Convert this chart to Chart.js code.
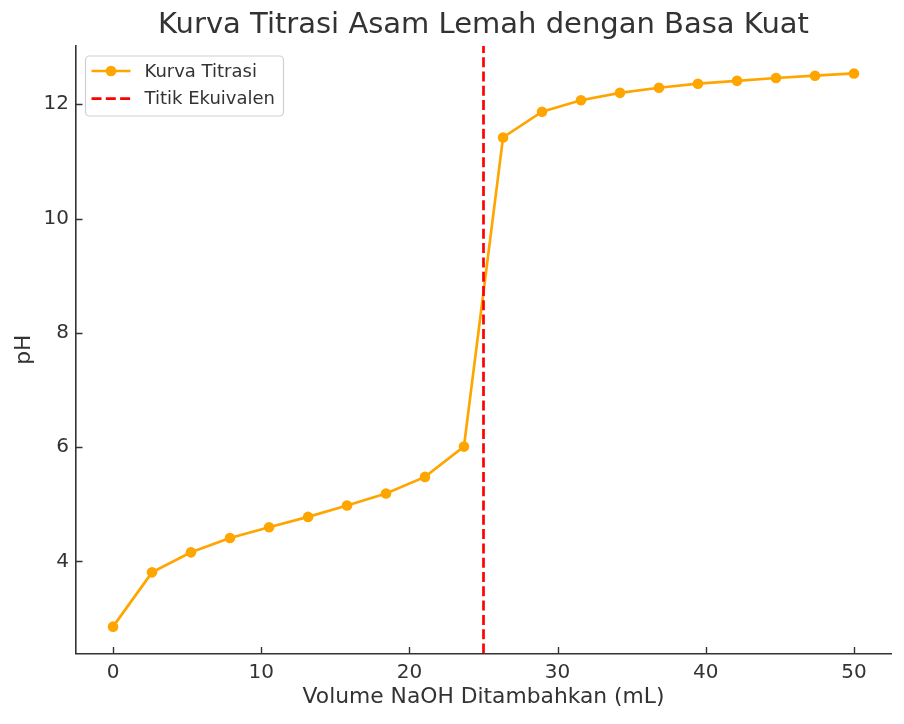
<!DOCTYPE html>
<html>
<head>
<meta charset="utf-8">
<script src="https://cdn.jsdelivr.net/npm/chart.js@4"></script>
<style>
  body { margin: 0; background: #fff; }
  #wrap { width: 904px; height: 724px; }
</style>
</head>
<body>
<div id="wrap"><canvas id="myChart" width="904" height="724"></canvas></div>
<script>
// data
var volume = [0, 2.63, 5.26, 7.89, 10.53, 13.16, 15.79, 18.42, 21.05, 23.68,
  26.32, 28.95, 31.58, 34.21, 36.84, 39.47, 42.11, 44.74, 47.37, 50];
var phValues = [2.86, 3.81, 4.16, 4.41, 4.6, 4.78, 4.98, 5.19, 5.48, 6.01,
  11.42, 11.87, 12.07, 12.2, 12.29, 12.36, 12.41, 12.46, 12.5, 12.54];
var equivVolume = 25;
var xTicks = [0, 10, 20, 30, 40, 50];
var yTicks = [4, 6, 8, 10, 12];
var xRange = [-2.5, 52.5];
var yRange = [2.39, 13.02];

var textColor = "#333333";
var fontFamily = "'DejaVu Sans', sans-serif";

var curve = volume.map(function (v, i) {
  return { x: v, y: phValues[i] };
});
var equivLine = [
  { x: equivVolume, y: yRange[0] },
  { x: equivVolume, y: yRange[1] },
];

// matplotlib style inward tick marks
var tickMarks = {
  id: "tickMarks",
  afterDatasetsDraw: function (chart) {
    var ctx = chart.ctx;
    var area = chart.chartArea;
    var xs = chart.scales.x;
    var ys = chart.scales.y;
    ctx.save();
    ctx.strokeStyle = textColor;
    ctx.lineWidth = 1.4;
    ctx.beginPath();
    xTicks.forEach(function (t) {
      var px = Math.round(xs.getPixelForValue(t)) + 0.5;
      ctx.moveTo(px, area.bottom);
      ctx.lineTo(px, area.bottom - 6.5);
    });
    yTicks.forEach(function (t) {
      var py = Math.round(ys.getPixelForValue(t)) + 0.5;
      ctx.moveTo(area.left, py);
      ctx.lineTo(area.left + 6.5, py);
    });
    ctx.stroke();
    ctx.restore();
  },
};

// legend box in the upper left, like matplotlib
var boxLegend = {
  id: "boxLegend",
  afterDraw: function (chart) {
    var ctx = chart.ctx;
    var area = chart.chartArea;
    var x0 = area.left + 9.5;
    var y0 = area.top + 10;
    var w = 198;
    var h = 60;
    ctx.save();
    ctx.fillStyle = "rgba(255,255,255,0.8)";
    ctx.strokeStyle = "#d0d0d0";
    ctx.lineWidth = 1.2;
    ctx.beginPath();
    ctx.roundRect(x0, y0, w, h, 4);
    ctx.fill();
    ctx.stroke();

    var ds = chart.data.datasets;
    ds.forEach(function (d, i) {
      var cy = y0 + 15 + i * 27.6;
      ctx.strokeStyle = d.borderColor;
      ctx.lineWidth = d.borderWidth;
      ctx.setLineDash(d.borderDash || []);
      ctx.beginPath();
      ctx.moveTo(x0 + 6, cy);
      ctx.lineTo(x0 + 45, cy);
      ctx.stroke();
      ctx.setLineDash([]);
      if (d.pointRadius > 0) {
        ctx.fillStyle = d.pointBackgroundColor;
        ctx.beginPath();
        ctx.arc(x0 + 25.5, cy, d.pointRadius, 0, Math.PI * 2);
        ctx.fill();
      }
      ctx.fillStyle = textColor;
      ctx.font = "18px " + fontFamily;
      ctx.textBaseline = "middle";
      ctx.fillText(d.label, x0 + 59, cy + 1);
    });
    ctx.restore();
  },
};

var ctx = document.getElementById("myChart").getContext("2d");
var myChart = new Chart(ctx, {
  type: "line",
  data: {
    datasets: [
      {
        label: "Kurva Titrasi",
        data: curve,
        borderColor: "#FFA500",
        backgroundColor: "#FFA500",
        pointBackgroundColor: "#FFA500",
        pointBorderWidth: 0,
        borderWidth: 2.7,
        pointRadius: 5.3,
        tension: 0,
        order: 1,
      },
      {
        label: "Titik Ekuivalen",
        data: equivLine,
        borderColor: "#FF0000",
        borderWidth: 2.7,
        borderDash: [10, 4.3],
        pointRadius: 0,
        order: 0,
      },
    ],
  },
  options: {
    responsive: false,
    animation: false,
    events: [],
    layout: { padding: { left: 0, right: 13, top: 0, bottom: 0 } },
    plugins: {
      legend: { display: false },
      tooltip: { enabled: false },
      title: {
        display: true,
        fullSize: false,
        text: "Kurva Titrasi Asam Lemah dengan Basa Kuat",
        color: textColor,
        font: { family: fontFamily, size: 29, weight: "normal", lineHeight: 1.2 },
        padding: { top: 7.8, bottom: 3.4 },
      },
    },
    scales: {
      x: {
        type: "linear",
        min: xRange[0],
        max: xRange[1],
        afterBuildTicks: function (scale) {
          scale.ticks = xTicks.map(function (v) { return { value: v }; });
        },
        afterFit: function (scale) { scale.height = 70.5; },
        grid: { display: true, drawOnChartArea: false, drawTicks: false },
        border: { display: true, color: textColor, width: 1.6 },
        ticks: {
          color: textColor,
          padding: 7,
          maxRotation: 0,
          font: { family: fontFamily, size: 20 },
        },
        title: {
          display: true,
          text: "Volume NaOH Ditambahkan (mL)",
          color: textColor,
          font: { family: fontFamily, size: 21.8 },
          padding: { top: 0, bottom: 14 },
        },
      },
      y: {
        type: "linear",
        min: yRange[0],
        max: yRange[1],
        afterBuildTicks: function (scale) {
          scale.ticks = yTicks.map(function (v) { return { value: v }; });
        },
        afterFit: function (scale) { scale.width = 76; },
        grid: { display: true, drawOnChartArea: false, drawTicks: false },
        border: { display: true, color: textColor, width: 1.6 },
        ticks: {
          color: textColor,
          padding: 7,
          font: { family: fontFamily, size: 20 },
        },
        title: {
          display: true,
          text: "pH",
          color: textColor,
          font: { family: fontFamily, size: 21.8 },
          padding: { top: 11, bottom: 0 },
        },
      },
    },
  },
  plugins: [tickMarks, boxLegend],
});
</script>
</body>
</html>
